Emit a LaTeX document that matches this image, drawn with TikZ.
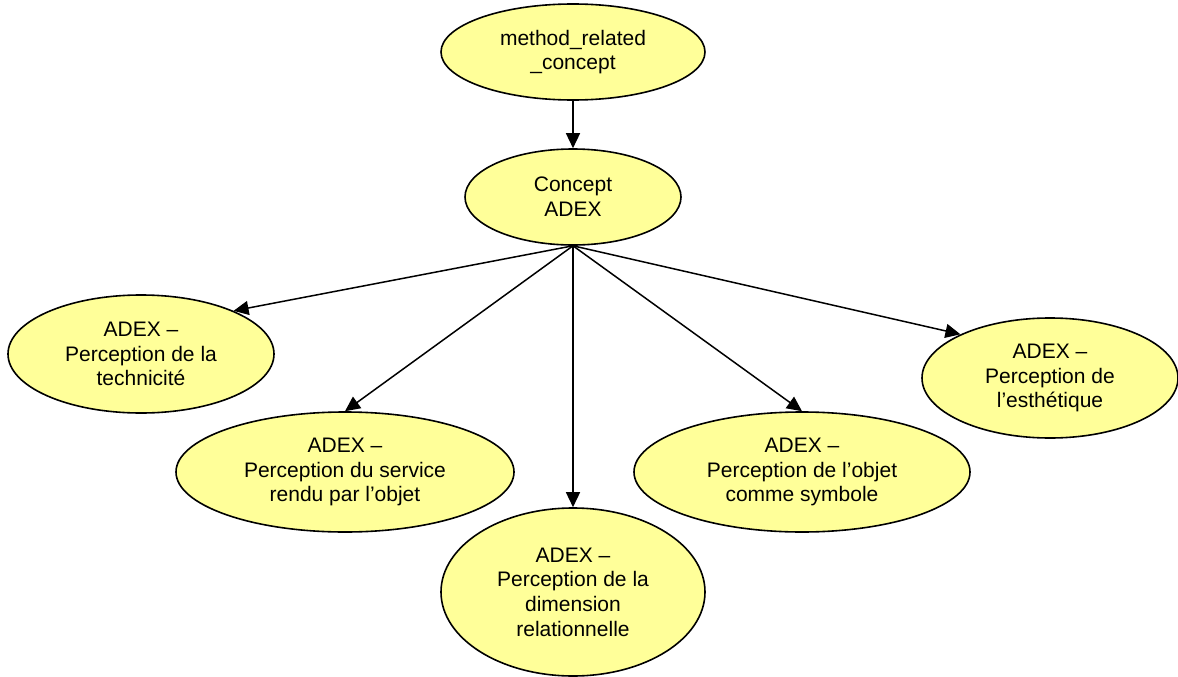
\documentclass[tikz,border=0pt]{standalone}
\usepackage{fontspec}
\setmainfont{Liberation Sans}
\usetikzlibrary{shapes.geometric,arrows.meta}
\definecolor{yfill}{RGB}{255,255,153}
\begin{document}
\begin{tikzpicture}[x=1pt,y=-1pt,
  ell/.style={ellipse,draw=black,line width=1.6pt,fill=yfill,inner sep=0pt,align=center,
    font=\fontsize{21}{24.7}\selectfont},
  arr/.style={-{Triangle[length=15pt,width=14pt]},line width=1.5pt}]
\useasboundingbox (0,0) rectangle (1178,677);
\node[ell,minimum width=264pt,minimum height=96pt] (top) at (573,52) {method\_related\\\_concept};
\node[ell,minimum width=216pt,minimum height=96pt] (concept) at (573,197) {Concept\\ADEX};
\node[ell,minimum width=266pt,minimum height=118pt] (tech) at (141,354) {ADEX --\\Perception de la\\technicité};
\node[ell,minimum width=338pt,minimum height=120pt] (serv) at (345,472) {ADEX --\\Perception du service\\rendu par l’objet};
\node[ell,minimum width=264pt,minimum height=168pt] (dim) at (573,592) {ADEX --\\Perception de la\\dimension\\relationnelle};
\node[ell,minimum width=336pt,minimum height=120pt] (symb) at (802,472) {ADEX --\\Perception de l’objet\\comme symbole};
\node[ell,minimum width=256pt,minimum height=120pt] (esth) at (1050,378) {ADEX --\\Perception de\\l’esthétique};
\draw[arr] (top) -- (concept);
\draw[arr] (concept.south) -- (tech.25);
\draw[arr] (concept.south) -- (serv.90);
\draw[arr] (concept.south) -- (dim.north);
\draw[arr] (concept.south) -- (symb.90);
\draw[arr] (concept.south) -- (esth.154);
\end{tikzpicture}
\end{document}
